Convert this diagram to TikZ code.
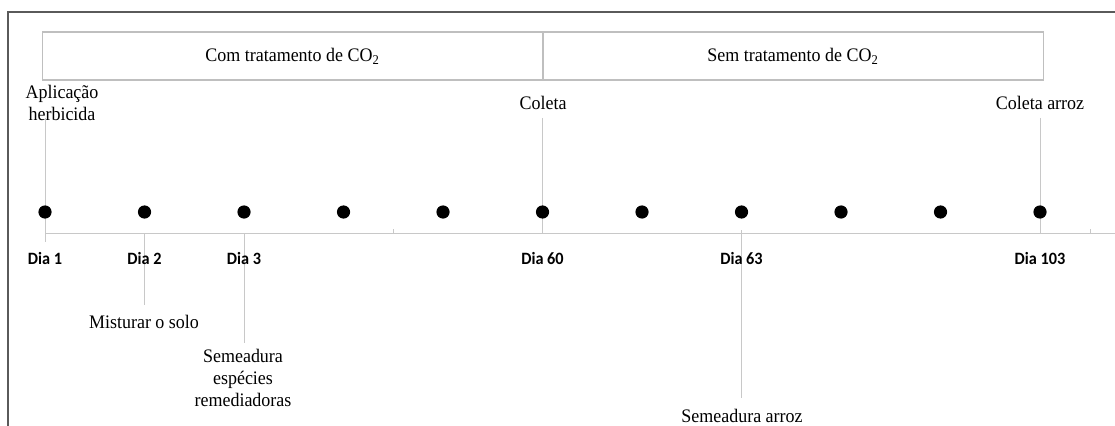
\documentclass[tikz,border=0pt]{standalone}
\usepackage{fontspec}
\setmainfont[FakeStretch=0.94]{Liberation Serif}
\newfontfamily\diafont[FakeStretch=0.94]{Carlito}
\definecolor{moldcinza}{HTML}{5A5A5A}
\definecolor{caixacinza}{HTML}{BFBFBF}
\definecolor{linhacinza}{HTML}{C8C8C8}
\begin{document}
\begin{tikzpicture}[x=0.025cm,y=-0.025cm]
  \tikzset{fase/.style={draw=caixacinza,line width=0.8pt,rectangle,minimum width=12.5cm,minimum height=1.2cm,inner sep=0pt,font=\fontsize{13.6}{15.5}\selectfont},
    txt/.style={align=center,inner sep=0pt,font=\fontsize{13.6}{15.5}\selectfont},
    dia/.style={inner sep=0pt,font=\diafont\bfseries\fontsize{12.3}{14}\selectfont},
    ponto/.style={circle,fill=black,inner sep=0pt,minimum size=0.33cm},
    conn/.style={draw=linhacinza,line width=0.7pt}}
  \useasboundingbox (0,0) rectangle (1115,426);
  \draw[moldcinza,line width=1.1pt] (8,426) -- (8,12) -- (1115,12);
  \node[fase] (com) at (292.5,56) {Com tratamento de CO\textsubscript{2}};
  \node[fase] (sem) at (793,56) {Sem tratamento de CO\textsubscript{2}};
  \foreach \i [count=\n] in {0,...,10} {
    \coordinate (ax\n) at ({45+99.5*\i},233);
  }
  \coordinate (axfim) at (1115,233);
  \draw[conn] (ax1) -- (axfim);
  \draw[conn] (393,233) -- (393,228.5);
  \draw[conn] (1090,233) -- (1090,228.5);
  \node[txt] (aplic) at (62,103) {Aplicação\\herbicida};
  \node[txt] (coleta) at (543,103) {Coleta};
  \node[txt] (coletaarroz) at (1040,103) {Coleta arroz};
  \node[txt] (misturar) at (144,322) {Misturar o solo};
  \node[txt] (semesp) at (243,378) {Semeadura\\espécies\\remediadoras};
  \node[txt] (semarroz) at (742,416) {Semeadura arroz};
  \foreach \n/\a/\b in {1/118/242,2/233/305,3/233/343,6/118/233,8/230/398,11/118/233}
    \draw[conn] (ax\n |- 0,\a) -- (ax\n |- 0,\b);
  \foreach \n in {1,...,11}
    \node[ponto] (d\n) at (ax\n |- 0,212) {};
  \node[dia] (dia1) at (ax1 |- 0,258) {Dia 1};
  \node[dia] (dia2) at (ax2 |- 0,258) {Dia 2};
  \node[dia] (dia3) at (ax3 |- 0,258) {Dia 3};
  \node[dia] (dia60) at (ax6 |- 0,258) {Dia 60};
  \node[dia] (dia63) at (ax8 |- 0,258) {Dia 63};
  \node[dia] (dia103) at (ax11 |- 0,258) {Dia 103};
\end{tikzpicture}
\end{document}
